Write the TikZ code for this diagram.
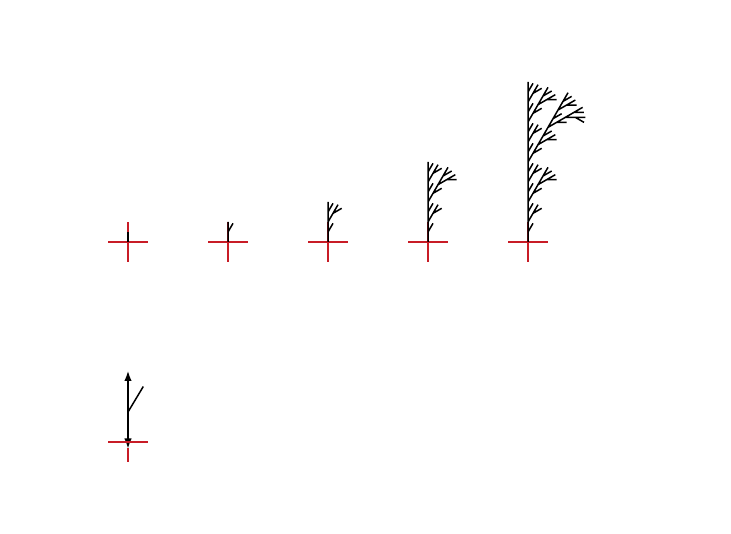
\documentclass[tikz,border=0pt]{standalone}
\usetikzlibrary{lindenmayersystems,arrows.meta}
\definecolor{crossred}{RGB}{200,28,38}
\pgfdeclarelindenmayersystem{plant}{\rule{F -> F[-F]F}}
\begin{document}
\begin{tikzpicture}[x=1pt,y=1pt,
  crossline/.style={crossred,line width=1.6pt},
  plantline/.style={black,line width=1.5pt},
  arrowline/.style={black,line width=1.5pt,arrows={Latex[length=10pt,width=7.5pt]-Latex[length=10pt,width=7.5pt]}}]
\useasboundingbox (0,0) rectangle (731,533);
% reference crosses of the plants
\foreach \cx/\cy in {128/291,228/291,328/291,428/291,528/291}{
  \draw[crossline] (\cx-20,\cy) -- (\cx+20,\cy);
  \draw[crossline] (\cx,\cy-20) -- (\cx,\cy+20);
}
% plants of order 0 to 4
\foreach \n/\cx in {0/128,1/228,2/328,3/428,4/528}{
  \begin{scope}[shift={(\cx,291)},rotate=90]
    \draw[plantline,l-system={plant, axiom=F, order=\n, step=10pt, angle=30}] (0,0) lindenmayer system;
  \end{scope}
}
% rule illustration
\coordinate (b0) at (128,84.5);
\coordinate (b1) at (128,121);
\coordinate (bt) at (128,162);
\coordinate (br) at (143.3,146.5);
\draw[arrowline] (b0) -- (bt);
\draw[plantline] (b1) -- (br);
\draw[crossline] (108,91) -- (148,91);
\draw[crossline] (128,71) -- (128,84.5);
\end{tikzpicture}
\end{document}
